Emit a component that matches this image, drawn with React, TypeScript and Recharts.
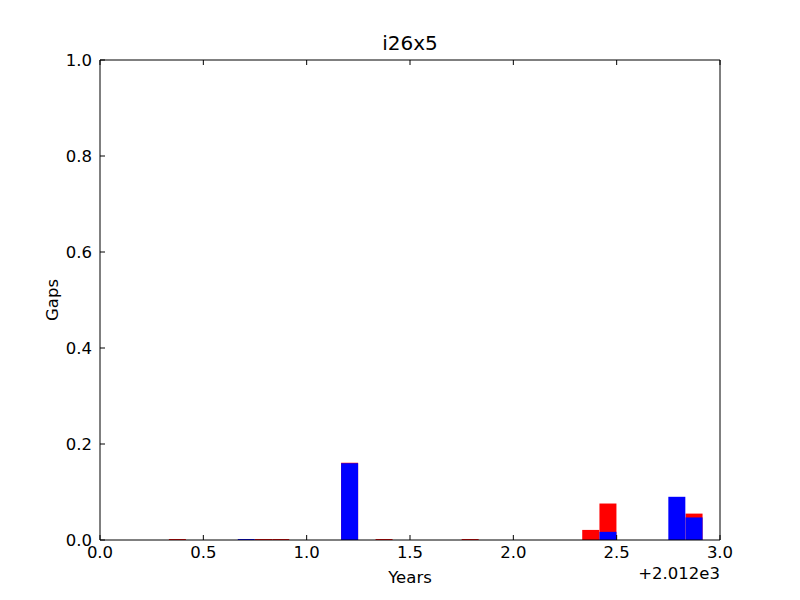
import { ComposedChart, Bar, XAxis, YAxis, Label } from 'recharts';

// months since start of 2012 (bar left edge = month / 12)
const months = Array.from({ length: 36 }, (_, i) => i);

// red series (drawn behind)
const redGaps = [
    0, 0, 0, 0, 0.002, 0, 0, 0, 0, 0.002, 0.002, 0,
    0, 0, 0.161, 0, 0.002, 0, 0, 0, 0, 0.002, 0, 0,
    0, 0, 0, 0, 0.021, 0.076, 0, 0, 0, 0, 0.055, 0,
];

// blue series (drawn in front)
const blueGaps = [
    0, 0, 0, 0, 0, 0, 0, 0, 0.002, 0, 0, 0,
    0, 0, 0.16, 0, 0, 0, 0, 0, 0, 0, 0, 0,
    0, 0, 0, 0, 0, 0.017, 0, 0, 0, 0.09, 0.047, 0,
];

const xTicks = [0, 0.5, 1.0, 1.5, 2.0, 2.5, 3.0];
const yTicks = [0, 0.2, 0.4, 0.6, 0.8, 1.0];

const FONT = 'DejaVu Sans, sans-serif';
const FS = 16.5;

export default function App() {
    const data = months.map((m, i) => ({
        x: (m + 0.5) / 12,
        red: redGaps[i],
        blue: blueGaps[i],
    }));

    const tickStyle = { fill: '#000', fontSize: FS, fontFamily: FONT };

    return (
        <div style={{ position: 'absolute', left: 0, top: 0, width: 800, height: 600, background: '#fff' }}>
            <div style={{ position: 'absolute', left: 100, width: 620, top: 31, textAlign: 'center', fontFamily: FONT, fontSize: 20 }}>
                i26x5
            </div>
            <ComposedChart
                width={800}
                height={600}
                data={data}
                margin={{ top: 59, right: 79, bottom: 0, left: 40 }}
                barCategoryGap={0}
                barGap={0}
            >
                <XAxis
                    xAxisId="red"
                    dataKey="x"
                    type="number"
                    domain={[0, 3]}
                    ticks={xTicks}
                    tickFormatter={(v: number) => v.toFixed(1)}
                    height={60}
                    tickSize={-5}
                    tickMargin={11}
                    axisLine={{ stroke: '#000' }}
                    tickLine={{ stroke: '#000' }}
                    tick={tickStyle}
                    allowDataOverflow
                >
                    <Label value="Years" position="insideTop" offset={31} style={{ fill: '#000', fontSize: FS, fontFamily: FONT }} />
                </XAxis>
                <XAxis xAxisId="blue" dataKey="x" type="number" domain={[0, 3]} height={0} hide />
                <XAxis
                    xAxisId="top"
                    orientation="top"
                    dataKey="x"
                    type="number"
                    domain={[0, 3]}
                    ticks={xTicks}
                    height={1}
                    tickSize={-5}
                    tickFormatter={() => ''}
                    axisLine={{ stroke: '#000' }}
                    tickLine={{ stroke: '#000' }}
                />
                <YAxis
                    yAxisId="left"
                    domain={[0, 1]}
                    ticks={yTicks}
                    tickFormatter={(v: number) => v.toFixed(1)}
                    width={60}
                    tickSize={-5}
                    tickMargin={13}
                    axisLine={{ stroke: '#000' }}
                    tickLine={{ stroke: '#000' }}
                    tick={tickStyle}
                >
                    <Label value="Gaps" angle={-90} position="insideLeft" offset={12} style={{ fill: '#000', fontSize: FS, fontFamily: FONT, textAnchor: 'middle' }} />
                </YAxis>
                <YAxis
                    yAxisId="right"
                    orientation="right"
                    domain={[0, 1]}
                    ticks={yTicks}
                    width={1}
                    tickSize={-5}
                    tickFormatter={() => ''}
                    axisLine={{ stroke: '#000' }}
                    tickLine={{ stroke: '#000' }}
                />
                <Bar dataKey="red" xAxisId="red" yAxisId="left" fill="#ff0000" isAnimationActive={false} />
                <Bar dataKey="blue" xAxisId="blue" yAxisId="left" fill="#0000ff" isAnimationActive={false} />
            </ComposedChart>
            <div style={{ position: 'absolute', left: 560, width: 160, top: 564, textAlign: 'right', fontFamily: FONT, fontSize: FS }}>
                +2.012e3
            </div>
        </div>
    );
}
